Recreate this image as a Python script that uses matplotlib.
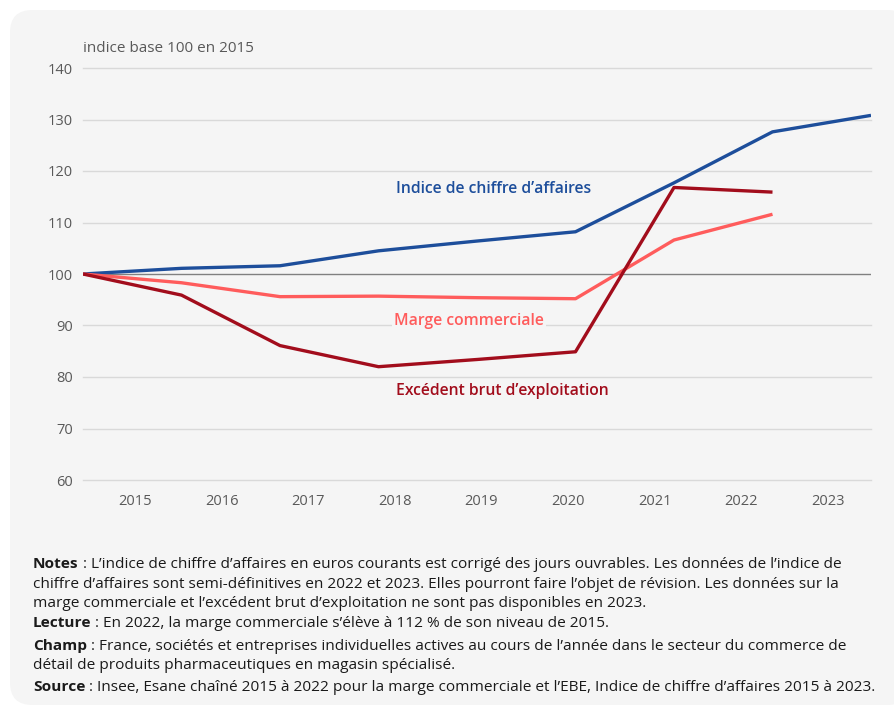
import numpy as np
import matplotlib.pyplot as plt
from matplotlib.patches import FancyBboxPatch

plt.rcParams['font.family'] = ['Open Sans', 'DejaVu Sans']

### Données (indice base 100 en 2015)
annees = ['2015', '2016', '2017', '2018', '2019', '2020', '2021', '2022', '2023']
ca = [100, 101.1, 101.6, 104.5, 106.4, 108.2, 117.7, 127.6, 130.8]
marge = [100, 98.3, 95.6, 95.7, 95.4, 95.2, 106.6, 111.6]
ebe = [100, 95.9, 86.1, 82.0, 83.4, 84.9, 116.8, 115.9]

c_ca = '#1d4e9b'
c_marge = '#ff5c5c'
c_ebe = '#a20d1c'
bg = '#f5f5f5'
gris = '#595959'

W, H = 895, 709
fig = plt.figure(figsize=(W / 100, H / 100), dpi=100)
fig.patch.set_facecolor('white')

# panneau gris arrondi
panel = FancyBboxPatch((10 / W, 4 / H), 900 / W, 695 / H,
                       boxstyle='round,pad=0,rounding_size=0.025',
                       transform=fig.transFigure, facecolor=bg,
                       edgecolor='none', zorder=-5, mutation_aspect=W / H)
fig.patches.append(panel)

ax = fig.add_axes([83 / W, 1 - 480 / H, (871 - 83) / W, (480 - 68) / H], zorder=2)
ax.set_facecolor('none')

x = np.arange(len(annees))
ax.plot(x, ca, color=c_ca, lw=2.4, zorder=4, solid_capstyle='butt')
ax.plot(x[:len(marge)], marge, color=c_marge, lw=2.4, zorder=4, solid_capstyle='butt')
ax.plot(x[:len(ebe)], ebe, color=c_ebe, lw=2.4, zorder=5, solid_capstyle='butt')

ax.set_xlim(0, 8)
ax.set_ylim(60, 140)
ax.set_yticks(np.arange(60, 141, 10))
for v in range(60, 141, 10):
    if v != 100:
        ax.axhline(v, color='#d9d9d9', lw=1, zorder=1, clip_on=False)
ax.axhline(100, color='#808080', lw=1, zorder=2)

# axe des catégories décalé (comme dans le graphique d'origine)
w = (8 - 0.09) / 9
ax.set_xticks([0.09 + w * (i + 0.5) for i in range(len(annees))])
ax.set_xticklabels(annees)

for s in ax.spines.values():
    s.set_visible(False)
ax.tick_params(length=0, colors=gris, labelsize=10.5)
ax.tick_params(axis='y', pad=7)
ax.tick_params(axis='x', pad=10)

ax.text(0, 1.03, 'indice base 100 en 2015', transform=ax.transAxes,
        color=gris, fontsize=11, va='bottom', ha='left')

lab = dict(fontsize=11.3, fontweight='semibold', ha='center', va='center', zorder=6,
           bbox=dict(facecolor=bg, edgecolor='none', pad=1.5))
ax.text(4.17, 116.6, 'Indice de chiffre d\u2019affaires', color=c_ca, **lab)
ax.text(3.92, 90.8, 'Marge commerciale', color=c_marge, **lab)
ax.text(4.26, 77.2, 'Excédent brut d\u2019exploitation', color=c_ebe, **lab)

# notes en bas
notes = [
    ('Notes', ' : L\u2019indice de chiffre d\u2019affaires en euros courants est corrigé des jours ouvrables. Les données de l\u2019indice de', 568),
    (None, 'chiffre d\u2019affaires sont semi-définitives en 2022 et 2023. Elles pourront faire l\u2019objet de révision. Les données sur la', 588),
    (None, 'marge commerciale et l\u2019excédent brut d\u2019exploitation ne sont pas disponibles en 2023.', 607),
    ('Lecture', ' : En 2022, la marge commerciale s\u2019élève à 112 % de son niveau de 2015.', 627),
    ('Champ', ' : France, sociétés et entreprises individuelles actives au cours de l\u2019année dans le secteur du commerce de', 650),
    (None, 'détail de produits pharmaceutiques en magasin spécialisé.', 669),
    ('Source', ' : Insee, Esane chaîné 2015 à 2022 pour la marge commerciale et l\u2019EBE, Indice de chiffre d\u2019affaires 2015 à 2023.', 691),
]
fs = 11.05
fig.canvas.draw()
r = fig.canvas.get_renderer()
for gras, reste, yp in notes:
    x0 = 33 / W
    if gras:
        t = fig.text(x0, 1 - yp / H, gras, fontsize=fs, fontweight='bold',
                     color='#1a1a1a', va='baseline', ha='left')
        x0 = t.get_window_extent(r).x1 / W
    fig.text(x0, 1 - yp / H, reste, fontsize=fs, color='#1a1a1a',
             va='baseline', ha='left')

fig.savefig('out.png', dpi=100, facecolor='white')
